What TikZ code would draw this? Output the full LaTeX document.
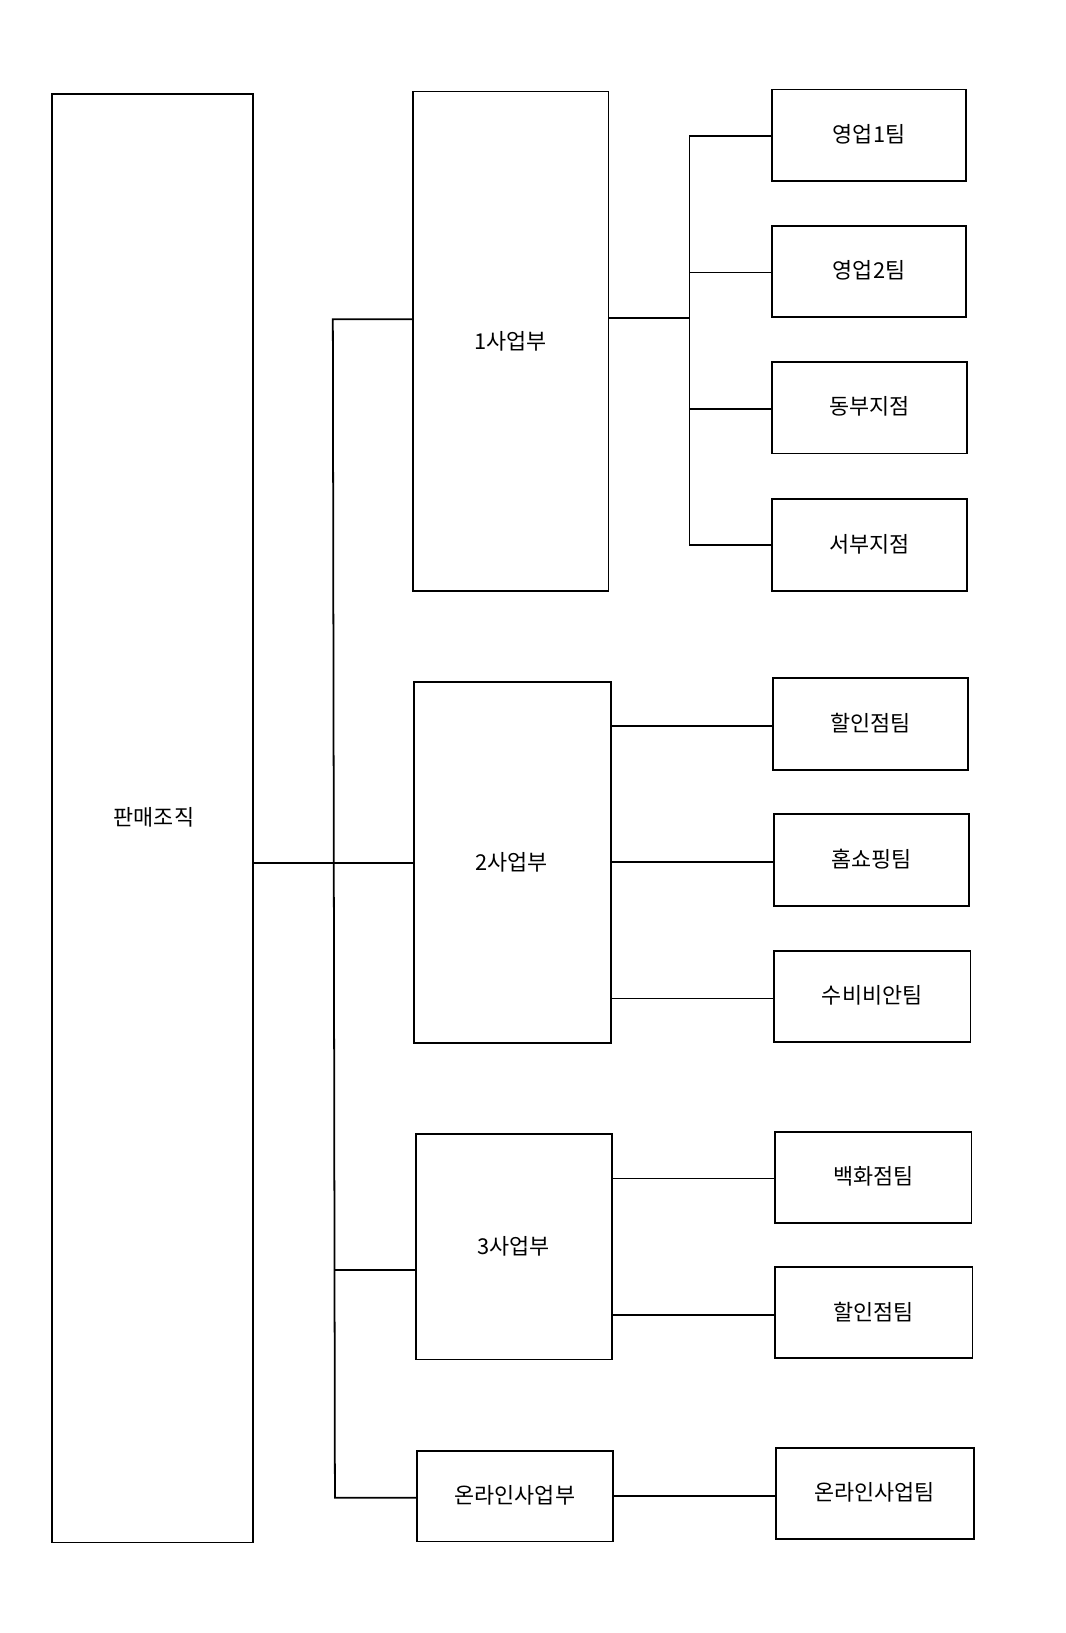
\documentclass[tikz,border=0pt]{standalone}
\usepackage{fontspec}
\setmainfont{Noto Sans CJK KR}
\begin{document}
\begin{tikzpicture}[x=1pt,y=-1pt,
  box/.style={draw,line width=1.8pt},
  ln/.style={line width=1.7pt}]
\useasboundingbox (0,0) rectangle (1024,1570);
\newcommand{\lbl}[2]{\node[font=\fontsize{21}{24}\selectfont] at #1 {#2};}
\newcommand{\bx}[5]{\node[box,minimum width={#4-#2},minimum height={#5-#3},inner sep=0] (#1) at ({(#2+#4)/2},{(#3+#5)/2}) {};}
\bx{root}{50}{90}{243}{1483}
\lbl{(148,786)}{판매조직}
\bx{d1}{397}{88}{585}{568}\lbl{(491,328)}{1사업부}
\bx{d2}{398}{656}{587}{1003}\lbl{(492,829)}{2사업부}
\bx{d3}{400}{1090}{588}{1307}\lbl{(494,1198)}{3사업부}
\bx{d4}{401}{1395}{589}{1482}\lbl{(495,1438)}{온라인사업부}
\newcommand{\tb}[5]{\bx{#1}{#2}{#3}{#4}{#3+88}\lbl{({(#2+#4)/2},{#3+43})}{#5}}
\tb{t1}{742}{86}{929}{영업1팀}
\tb{t2}{742}{217}{929}{영업2팀}
\tb{t3}{742}{348}{930}{동부지점}
\tb{t4}{742}{480}{930}{서부지점}
\tb{t5}{743}{652}{931}{할인점팀}
\tb{t6}{744}{783}{932}{홈쇼핑팀}
\tb{t7}{744}{914}{933}{수비비안팀}
\tb{t8}{745}{1088}{934}{백화점팀}
\tb{t9}{745}{1218}{935}{할인점팀}
\tb{t10}{746}{1392}{936}{온라인사업팀}
\coordinate (ta) at (320,307);
\coordinate (tb) at (322,1440);
\draw[ln] (root.east |- 0,830) -- (d2.west |- 0,830);
\draw[ln] (d1.west |- ta) -- (ta) -- (tb) -- (d4.west |- tb);
\draw[ln] (321,1221) -- (d3.west |- 0,1221);
\coordinate (ba) at (663,131);
\coordinate (bb) at (663,524);
\draw[ln] (d1.east |- 0,306) -- (663,306);
\draw[ln] (t1.west |- ba) -- (ba) -- (bb) -- (t4.west |- bb);
\draw[ln] (663,262) -- (t2.west |- 0,262);
\draw[ln] (663,393) -- (t3.west |- 0,393);
\draw[ln] (d2.east |- 0,698) -- (t5.west |- 0,698);
\draw[ln] (d2.east |- 0,829) -- (t6.west |- 0,829);
\draw[ln] (d2.east |- 0,960) -- (t7.west |- 0,960);
\draw[ln] (d3.east |- 0,1133) -- (t8.west |- 0,1133);
\draw[ln] (d3.east |- 0,1264) -- (t9.west |- 0,1264);
\draw[ln] (d4.east |- 0,1438) -- (t10.west |- 0,1438);
\end{tikzpicture}
\end{document}
